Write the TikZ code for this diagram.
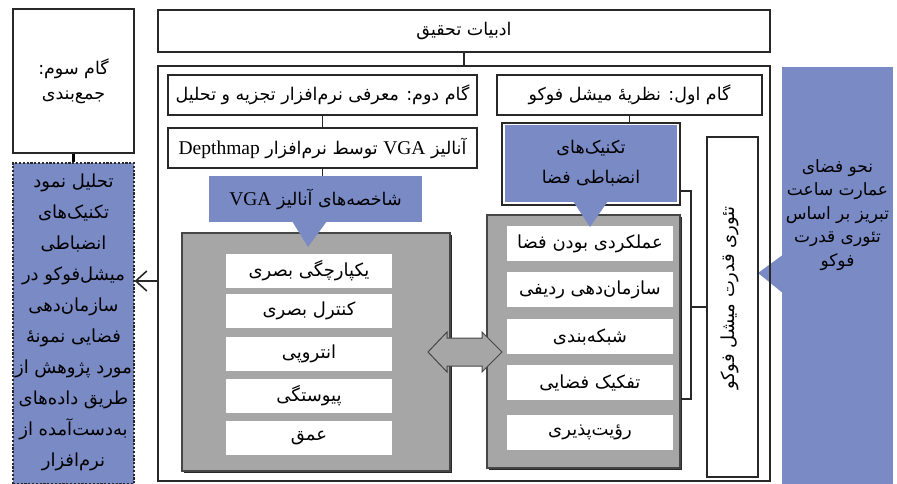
\documentclass[tikz,border=0pt]{standalone}
\usepackage{fontspec}
\usetikzlibrary{arrows.meta}
\TeXXeTstate=1
\newfontfamily\fa[Script=Arabic]{DejaVu Sans}
\newfontfamily\lat{Liberation Serif}
\newcommand\pe[1]{{\fa\beginR#1\endR}}
\newcommand\lt[1]{\beginL{\lat\fontsize{19.5}{22}\selectfont #1}\endL}
\definecolor{cblue}{RGB}{121,138,197}
\definecolor{cgray}{RGB}{166,166,166}
\definecolor{cdark}{RGB}{40,40,40}
\definecolor{cedge}{RGB}{70,70,70}
\tikzset{
  box/.style={draw=cdark,line width=1.3pt,fill=none,inner sep=0pt,align=center,text=black},
  graybox/.style={draw=cedge,line width=1.6pt,fill=cgray,inner sep=0pt},
  item/.style={fill=white,inner sep=0pt,minimum width=166pt,minimum height=34pt,align=center,font=\fontsize{18}{20}\selectfont},
  callout/.style={fill=cblue,inner sep=0pt,align=center},
  lnk/.style={draw=cdark,line width=1.1pt},
  txt/.style={font=\fontsize{17.5}{20}\selectfont}
}
\begin{document}
\begin{tikzpicture}[x=1pt,y=-1pt,txt]
\useasboundingbox (0,0) rectangle (897,484);
% right panel triangle (under lines)
\fill[cblue] (784,254) -- (784,294) -- (758,273) -- cycle;
\node[callout,minimum width=111pt,minimum height=417pt] (rp) at (837.5,275.5) {};
\node[align=center,font=\fontsize{17}{23.5}\selectfont] (rpt) at (837.5,215) {\pe{نحو فضای}\\\pe{عمارت ساعت}\\\pe{تبریز بر اساس}\\\pe{تئوری قدرت}\\\pe{فوکو}};
% top box and outer frame
\node[box,minimum width=612pt,minimum height=42pt] (tb) at (464,31) {\pe{ادبیات تحقیق}};
\node[box,minimum width=612pt,minimum height=415pt] (outer) at (464,273.5) {};
\draw[lnk] (tb.south) -- (outer.north);
% step boxes
\node[box,minimum width=309pt,minimum height=40pt] (s2) at (322.5,95) {\pe{گام دوم: معرفی نرم^^^^200cافزار تجزیه و تحلیل}};
\node[box,minimum width=265pt,minimum height=40pt] (s1) at (629.5,95) {\pe{گام اول: نظریهٔ میشل فوکو}};
\node[box,minimum width=309pt,minimum height=40pt] (vga) at (322.5,148) {\pe{آنالیز \lt{VGA} توسط نرم^^^^200cافزار \lt{Depthmap}}};
\draw[lnk] (s2.south) -- (vga.north);
% left gray box
\fill[cdark] (184,235) rectangle (452,473);
\node[graybox,minimum width=268pt,minimum height=238pt] (gL) at (316,352) {};
\node[item] (l1) at (309,271) {\pe{یکپارچگی بصری}};
\node[item] (l2) at (309,311) {\pe{کنترل بصری}};
\node[item] (l3) at (309,354) {\pe{انتروپی}};
\node[item] (l4) at (309,396) {\pe{پیوستگی}};
\node[item] (l5) at (309,438) {\pe{عمق}};
% right gray box
\fill[cdark] (489,217) rectangle (682,470);
\node[graybox,minimum width=193pt,minimum height=253pt] (gR) at (583.5,341.5) {};
\node[item,minimum height=35pt] (r1) at (590,243.5) {\pe{عملکردی بودن فضا}};
\node[item,minimum height=35pt] (r2) at (590,289.5) {\pe{سازمان^^^^200cدهی ردیفی}};
\node[item,minimum height=35pt] (r3) at (590,336.5) {\pe{شبکه^^^^200cبندی}};
\node[item,minimum height=35pt] (r4) at (590,382.5) {\pe{تفکیک فضایی}};
\node[item,minimum height=35pt] (r5) at (590,432) {\pe{رؤیت^^^^200cپذیری}};
% double arrow between the gray boxes
\filldraw[fill=cgray,draw=cedge,line width=1pt] (428,352) -- (447,332) -- (447,338) -- (482,338) -- (482,332) -- (502,352) -- (482,372) -- (482,366) -- (447,366) -- (447,372) -- cycle;
% callout 1
\node[callout,minimum width=213pt,minimum height=46pt] (c1) at (315.5,199) {\pe{شاخصه^^^^200cهای آنالیز \lt{VGA}}};
\fill[cblue] (292,221) -- (327,221) -- (308,247) -- cycle;
\draw[lnk] (vga.south) -- (vga.south |- c1.north);
% callout 2 with its frame
\node[box,minimum width=178pt,minimum height=82pt] (bb) at (591,164) {};
\node[callout,minimum width=172pt,minimum height=77pt,font=\fontsize{17.5}{30}\selectfont] (c2) at (591,163.5) {\pe{تکنیک^^^^200cهای}\\\pe{انضباطی فضا}};
\fill[cblue] (573,201) -- (608,201) -- (590,227) -- cycle;
\draw[lnk] (s1.south) -- (s1.south |- bb.north);
% vertical theory box and bracket
\node[box,minimum width=51pt,minimum height=340pt] (vt) at (732.5,307) {};
\node[rotate=90,font=\fontsize{18}{20}\selectfont] (vtt) at (730,298) {\pe{تئوری قدرت میشل فوکو}};
\coordinate (bk) at (691,307);
\draw[lnk] ([yshift=-27pt]bb.east) -| (bk);
\draw[lnk] ([yshift=-57.5pt]gR.east) -| (bk);
\draw[lnk] (bk) -- (bk -| vt.west);
% step three and summary
\node[box,minimum width=121pt,minimum height=144pt,font=\fontsize{17.5}{25}\selectfont] (s3) at (73.5,81) {\pe{گام سوم:}\\\pe{جمع^^^^200cبندی}};
\node[fill=cblue,draw=cdark,dashed,dash pattern=on 2.2pt off 1.6pt,line width=1.2pt,inner sep=0pt,minimum width=121pt,minimum height=321pt] (db) at (73.5,323.5) {};
\node[align=center,font=\fontsize{18}{31}\selectfont] (dbt) at (73.5,322.5) {\pe{تحلیل نمود}\\\pe{تکنیک^^^^200cهای}\\\pe{انضباطی}\\\pe{میشل^^^^200cفوکو در}\\\pe{سازمان^^^^200cدهی}\\\pe{فضایی نمونهٔ}\\\pe{مورد پژوهش از}\\\pe{طریق داده^^^^200cهای}\\\pe{به^^^^200cدست^^^^200cآمده از}\\\pe{نرم^^^^200cافزار}};
\draw[draw=black,line width=3pt] (s3.south) -- (db.north);
\draw[lnk,line width=1.6pt,-{Straight Barb[length=11pt,width=20pt]}] ([yshift=-7.5pt]outer.west) -- ([yshift=-7.5pt]outer.west -| db.east);
\end{tikzpicture}
\end{document}
